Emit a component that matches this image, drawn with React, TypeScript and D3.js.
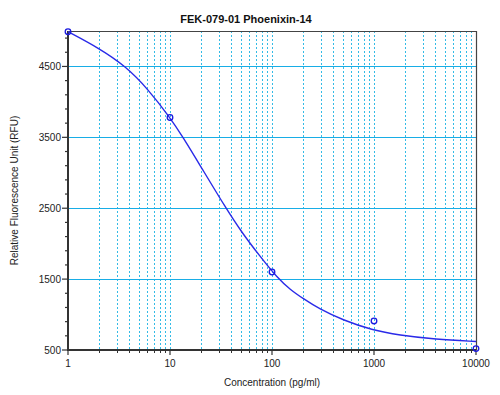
import React, { useRef, useEffect } from "react";
import * as d3 from "d3";

const title = "FEK-079-01 Phoenixin-14";
const xLabel = "Concentration (pg/ml)";
const yLabel = "Relative Fluorescence Unit (RFU)";

// standards (concentration pg/ml, RFU)
const stdConc = [1, 10, 100, 1000, 10000];
const stdRfu = [4990, 3780, 1600, 910, 520];

// fitted curve
const curveConc = [1, 2, 3.7, 6, 10, 13.3, 20, 35, 51, 75, 113, 153, 200, 290, 490, 960, 1750, 4000, 10000];
const curveRfu = [4990, 4760, 4500, 4190, 3780, 3510, 3090, 2510, 2150, 1835, 1515, 1345, 1230, 1080, 925, 780, 710, 650, 620];

const yMajor = [500, 1500, 2500, 3500, 4500];
const yMinor = [700, 900, 1100, 1300, 1700, 1900, 2100, 2300, 2700, 2900, 3100, 3300, 3700, 3900, 4100, 4300, 4700, 4900];
const xMajor = [1, 10, 100, 1000, 10000];
const xMinor = [2, 3, 4, 5, 6, 7, 8, 9, 20, 30, 40, 50, 60, 70, 80, 90, 200, 300, 400, 500, 600, 700, 800, 900, 2000, 3000, 4000, 5000, 6000, 7000, 8000, 9000];
const xGrid = [2, 3, 4, 5, 6, 7, 8, 9, 10, 20, 30, 40, 50, 60, 70, 80, 90, 100, 200, 300, 400, 500, 600, 700, 800, 900, 1000, 2000, 3000, 4000, 5000, 6000, 7000, 8000, 9000];
const yGrid = [1500, 2500, 3500, 4500];

const W = 500;
const H = 395;
const font = "Arial, 'Liberation Sans', sans-serif";

const App = () => {
  const svgRef = useRef(null);

  useEffect(() => {
    const svg = d3.select(svgRef.current);
    svg.selectAll("*").remove();

    const left = 68, right = 476, top = 31, bottom = 350;
    const x = d3.scaleLog().domain([1, 10000]).range([left, right]);
    const y = d3.scaleLinear().domain([500, 5000]).range([bottom, top]);

    svg.append("rect").attr("width", W).attr("height", H).attr("fill", "#fff");

    // grid
    svg.append("g")
      .selectAll("line")
      .data(xGrid)
      .join("line")
      .attr("x1", d => Math.round(x(d)) + 0.5)
      .attr("x2", d => Math.round(x(d)) + 0.5)
      .attr("y1", top)
      .attr("y2", bottom)
      .attr("stroke", "#33bbe6")
      .attr("stroke-width", 1)
      .attr("stroke-dasharray", "2,2");

    svg.append("g")
      .selectAll("line")
      .data(yGrid)
      .join("line")
      .attr("x1", left)
      .attr("x2", right)
      .attr("y1", d => Math.round(y(d)) + 0.5)
      .attr("y2", d => Math.round(y(d)) + 0.5)
      .attr("stroke", "#18ade6")
      .attr("stroke-width", 1.2);

    // frame (top/right thin)
    svg.append("path")
      .attr("d", `M${left},${top + 0.5}H${right + 0.5}V${bottom}`)
      .attr("fill", "none")
      .attr("stroke", "#444")
      .attr("stroke-width", 1.2);

    // y axis
    const yAxis = svg.append("g");
    yAxis.append("line")
      .attr("x1", left).attr("x2", left)
      .attr("y1", top).attr("y2", bottom + 1)
      .attr("stroke", "#333").attr("stroke-width", 2);
    yAxis.selectAll("line.maj")
      .data(yMajor)
      .join("line")
      .attr("class", "maj")
      .attr("x1", left - 6).attr("x2", left)
      .attr("y1", d => y(d)).attr("y2", d => y(d))
      .attr("stroke", "#333").attr("stroke-width", 1.2);
    yAxis.selectAll("line.min")
      .data(yMinor)
      .join("line")
      .attr("class", "min")
      .attr("x1", left - 3).attr("x2", left)
      .attr("y1", d => y(d)).attr("y2", d => y(d))
      .attr("stroke", "#333").attr("stroke-width", 1.2);
    yAxis.selectAll("text")
      .data(yMajor)
      .join("text")
      .attr("x", left - 7)
      .attr("y", d => y(d) + 3.5)
      .attr("text-anchor", "end")
      .attr("font-family", font)
      .attr("font-size", 10)
      .attr("fill", "#222")
      .text(d => d);

    // x axis
    const xAxis = svg.append("g");
    xAxis.append("line")
      .attr("x1", left - 1).attr("x2", right)
      .attr("y1", bottom).attr("y2", bottom)
      .attr("stroke", "#333").attr("stroke-width", 2);
    xAxis.selectAll("line.maj")
      .data(xMajor)
      .join("line")
      .attr("class", "maj")
      .attr("x1", d => x(d)).attr("x2", d => x(d))
      .attr("y1", bottom).attr("y2", bottom + 5)
      .attr("stroke", "#333").attr("stroke-width", 1.2);
    xAxis.selectAll("line.min")
      .data(xMinor)
      .join("line")
      .attr("class", "min")
      .attr("x1", d => Math.round(x(d)) + 0.5).attr("x2", d => Math.round(x(d)) + 0.5)
      .attr("y1", bottom).attr("y2", bottom + 3)
      .attr("stroke", "#333").attr("stroke-width", 1);
    xAxis.selectAll("text")
      .data(xMajor)
      .join("text")
      .attr("x", d => x(d))
      .attr("y", bottom + 17)
      .attr("text-anchor", "middle")
      .attr("font-family", font)
      .attr("font-size", 10)
      .attr("fill", "#222")
      .text(d => d);

    // fitted curve
    const curveData = curveConc.map((c, i) => [c, curveRfu[i]]);
    const line = d3.line()
      .x(d => x(d[0]))
      .y(d => y(d[1]))
      .curve(d3.curveBasis);
    svg.append("path")
      .datum(curveData)
      .attr("d", line)
      .attr("fill", "none")
      .attr("stroke", "#2a2ae8")
      .attr("stroke-width", 1.4);

    // standards
    svg.append("g")
      .selectAll("circle")
      .data(stdConc.map((c, i) => [c, stdRfu[i]]))
      .join("circle")
      .attr("cx", d => x(d[0]))
      .attr("cy", d => y(d[1]))
      .attr("r", 2.8)
      .attr("fill", "none")
      .attr("stroke", "#1a1ae0")
      .attr("stroke-width", 1.3);

    // titles
    svg.append("text")
      .attr("x", 246)
      .attr("y", 23)
      .attr("text-anchor", "middle")
      .attr("font-family", font)
      .attr("font-size", 11)
      .attr("font-weight", "bold")
      .attr("fill", "#111")
      .text(title);

    svg.append("text")
      .attr("x", (left + right) / 2)
      .attr("y", 386)
      .attr("text-anchor", "middle")
      .attr("font-family", font)
      .attr("font-size", 10)
      .attr("fill", "#222")
      .text(xLabel);

    svg.append("text")
      .attr("transform", `translate(18,${(top + bottom) / 2}) rotate(-90)`)
      .attr("text-anchor", "middle")
      .attr("font-family", font)
      .attr("font-size", 10)
      .attr("fill", "#222")
      .text(yLabel);
  }, []);

  return (
    <svg
      ref={svgRef}
      width={W}
      height={H}
      style={{ position: "absolute", left: 0, top: 0, display: "block" }}
    />
  );
};

export default App;
